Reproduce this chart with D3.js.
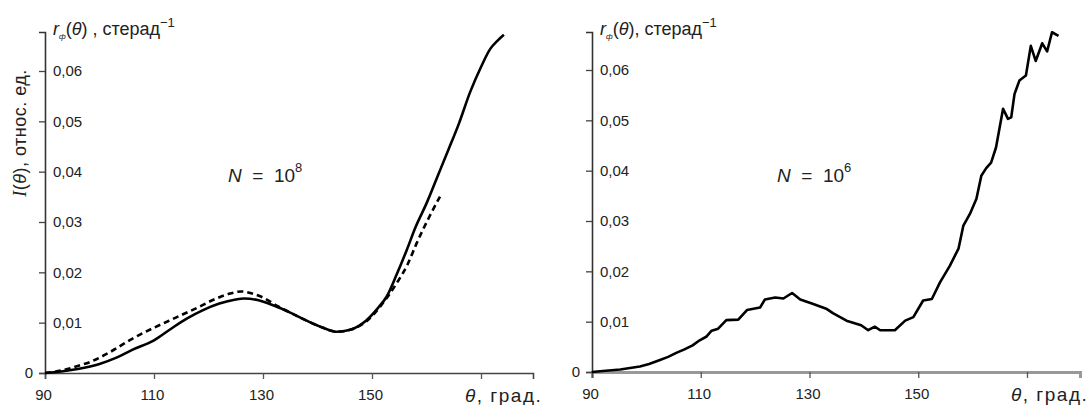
<!DOCTYPE html>
<html>
<head>
<meta charset="utf-8">
<script src="https://cdn.jsdelivr.net/npm/d3@7"></script>
<style>
  body { margin: 0; background: #fff; }
  svg { display: block; font-family: "Liberation Sans", Arial, sans-serif; }
</style>
</head>
<body>
<div id="chart"></div>
<script>
// axis ticks
const xTicks = [90, 110, 130, 150, 170];
const yTicks = [0, 0.01, 0.02, 0.03, 0.04, 0.05, 0.06];

// left panel, N = 10^8 : solid (computed) curve
const leftTheta = [90, 93, 96, 100, 103, 106, 110, 113, 116, 119, 122, 125, 126.5, 129, 132, 135, 138, 141, 143.5, 146, 149, 151, 152.7, 154.5, 156.4, 158, 160, 162, 164, 166, 168, 170, 171.7, 173, 174.2];
const leftSolid = [0, 0.0003, 0.0008, 0.0018, 0.003, 0.0046, 0.0065, 0.0087, 0.0108, 0.0125, 0.0138, 0.0146, 0.0148, 0.0145, 0.0134, 0.012, 0.0104, 0.009, 0.0082, 0.0086, 0.0105, 0.0128, 0.0152, 0.0195, 0.0245, 0.029, 0.0337, 0.039, 0.0443, 0.0497, 0.0558, 0.0608, 0.0644, 0.066, 0.0672];

// left panel : dashed curve
const dashTheta = [90, 93, 96, 98.3, 102, 106, 110, 114, 118, 121, 124, 126, 128, 130, 132.5, 135, 138, 141, 143.5, 146, 149, 151.5, 154.5, 156.5, 158.2, 160.5, 162.8];
const dashVals = [0, 0.0005, 0.0014, 0.0022, 0.0042, 0.0068, 0.009, 0.011, 0.013, 0.0146, 0.0158, 0.0162, 0.0158, 0.015, 0.0134, 0.012, 0.0104, 0.009, 0.0082, 0.0086, 0.0103, 0.0132, 0.0178, 0.0215, 0.0258, 0.031, 0.0357];

// right panel, N = 10^6
const rightTheta = [90, 92, 95.2, 98.8, 100.5, 102.5, 104, 105.5, 107, 108.5, 109.8, 111, 112, 113.2, 114.7, 116.9, 118.5, 120.9, 121.8, 123.7, 125.2, 126.8, 128.3, 130.7, 133.2, 134.3, 136.8, 139.5, 140.8, 142, 143, 145.7, 147.6, 149.1, 150.9, 152.5, 154, 155.8, 157.4, 158.3, 159.5, 160.7, 161.6, 162.5, 163.4, 164.3, 165.6, 166.5, 167.1, 167.7, 168.6, 169.8, 170.7, 171.6, 172.8, 173.7, 174.6, 175.8];
const rightVals = [0, 0.0002, 0.0005, 0.0011, 0.0016, 0.0024, 0.003, 0.0038, 0.0045, 0.0053, 0.0063, 0.007, 0.0082, 0.0086, 0.0103, 0.0104, 0.0123, 0.0128, 0.0144, 0.0148, 0.0146, 0.0157, 0.0144, 0.0135, 0.0125, 0.0117, 0.0102, 0.0093, 0.0083, 0.009, 0.0083, 0.0083, 0.0102, 0.0109, 0.0142, 0.0145, 0.0178, 0.0211, 0.0245, 0.0291, 0.0314, 0.0344, 0.039, 0.0405, 0.0416, 0.0446, 0.0523, 0.0503, 0.0506, 0.0552, 0.0579, 0.0589, 0.0648, 0.0618, 0.0653, 0.0637, 0.0675, 0.0668];

const W = 1091, H = 405;
const svg = d3.select('#chart').append('svg')
    .attr('width', W)
    .attr('height', H);

const fmt = v => v === 0 ? '0' : v.toFixed(2).replace('.', ',');

function drawPanel(opt) {
    const g = svg.append('g');
    const x = d3.scaleLinear().domain([90, 170]).range([opt.x0, opt.x170]);
    const y = d3.scaleLinear().domain([0, 0.06]).range([opt.y0, opt.y06]);
    const xEnd = x.invert(opt.xAxisEnd);
    const yTop = y.invert(opt.yAxisTop);

    // x axis
    const xa = g.append('g')
        .attr('transform', `translate(0, ${opt.y0})`)
        .call(d3.axisBottom(x.copy().domain([90, xEnd]).range([opt.x0, opt.xAxisEnd]))
            .tickValues(xTicks).tickSizeOuter(0).tickSize(6).tickFormat(d => d === 170 ? '' : d));
    xa.select('.domain').attr('stroke', opt.xAxisColor).attr('stroke-width', opt.xAxisWidth);
    xa.selectAll('.tick line').attr('stroke', '#555').attr('stroke-width', 1.3);
    xa.selectAll('.tick text')
        .attr('y', 16)
        .attr('dx', -2)
        .style('font-size', '15px')
        .attr('fill', '#222');

    // y axis, labels sit inside the plot
    const ya = g.append('g')
        .attr('transform', `translate(${opt.x0}, 0)`)
        .call(d3.axisLeft(y.copy().domain([0, yTop]).range([opt.y0, opt.yAxisTop]))
            .tickValues(yTicks).tickSizeOuter(0).tickSize(6).tickFormat(fmt));
    ya.select('.domain').attr('stroke', '#333').attr('stroke-width', 1.6);
    ya.selectAll('.tick line').attr('stroke', '#444').attr('stroke-width', 1.3);
    ya.selectAll('.tick text')
        .attr('x', d => d === 0 ? -12 : 8)
        .attr('text-anchor', d => d === 0 ? 'end' : 'start')
        .style('font-size', '15px')
        .attr('fill', '#222');

    // θ, град.
    g.append('text')
        .attr('x', x(170) - 16)
        .attr('y', opt.y0 + 29)
        .style('font-size', '19px')
        .style('letter-spacing', '1.5px')
        .attr('fill', '#222')
        .call(t => {
            t.append('tspan').style('font-style', 'italic').text('θ');
            t.append('tspan').text(', град.');
        });

    // r(θ), стерад^-1
    const top = g.append('text')
        .attr('x', opt.x0 + 8)
        .attr('y', 35)
        .style('font-size', '18px')
        .attr('fill', '#222');
    top.append('tspan').style('font-style', 'italic').text('r');
    top.append('tspan').attr('dy', 4).style('font-size', '8px').style('font-style', 'italic').text('ф');
    top.append('tspan').attr('dy', -4).text('(');
    top.append('tspan').style('font-style', 'italic').text('θ');
    top.append('tspan').text(')' + opt.gap + ', стерад');
    top.append('tspan').attr('dy', -8).style('font-size', '13px').text('−1');

    // N = 10^n
    const nt = g.append('text')
        .attr('x', opt.nx)
        .attr('y', 182)
        .style('font-size', '19px')
        .attr('fill', '#222');
    nt.append('tspan').style('font-style', 'italic').text('N');
    nt.append('tspan').attr('xml:space', 'preserve').text('  =  10');
    nt.append('tspan').attr('dy', -10).style('font-size', '13px').text(opt.power);

    const line = d3.line()
        .x(d => x(d[0]))
        .y(d => y(d[1]))
        .curve(opt.curve);

    opt.series.forEach(s => {
        g.append('path')
            .datum(d3.zip(s.theta, s.vals))
            .attr('fill', 'none')
            .attr('stroke', '#000')
            .attr('stroke-width', 2.6)
            .attr('stroke-linejoin', 'round')
            .attr('stroke-dasharray', s.dash || null)
            .attr('d', line);
    });
}

drawPanel({
    x0: 45, x170: 481, xAxisEnd: 533,
    y0: 373, y06: 71, yAxisTop: 32,
    xAxisColor: '#444', xAxisWidth: 1.6,
    nx: 228, power: '8', gap: ' ',
    curve: d3.curveMonotoneX,
    series: [
        { theta: dashTheta, vals: dashVals, dash: '6,4' },
        { theta: leftTheta, vals: leftSolid }
    ]
});

drawPanel({
    x0: 592, x170: 1027, xAxisEnd: 1080,
    y0: 372, y06: 70, yAxisTop: 32,
    xAxisColor: '#999', xAxisWidth: 3,
    nx: 777, power: '6', gap: '',
    curve: d3.curveLinear,
    series: [
        { theta: rightTheta, vals: rightVals }
    ]
});

// y label of the left panel
const yl = svg.append('text')
    .attr('transform', 'translate(26, 133) rotate(-90)')
    .attr('text-anchor', 'middle')
    .style('font-size', '18px')
    .style('letter-spacing', '0.5px')
    .attr('fill', '#222');
yl.append('tspan').style('font-style', 'italic').style('font-family', '"Liberation Serif", serif').text('I');
yl.append('tspan').text('(');
yl.append('tspan').style('font-style', 'italic').text('θ');
yl.append('tspan').text('), относ. ед.');
</script>
</body>
</html>
